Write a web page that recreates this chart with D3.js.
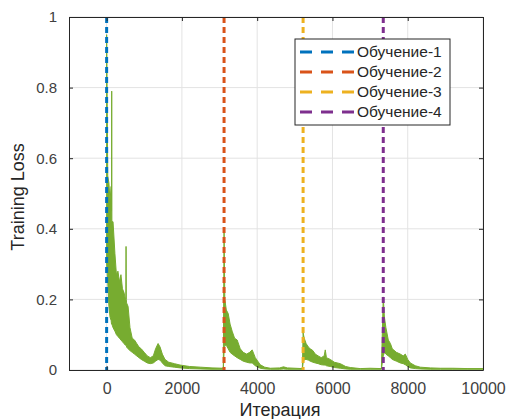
<!DOCTYPE html>
<html>
<head>
<meta charset="utf-8">
<script src="https://cdn.jsdelivr.net/npm/d3@7"></script>
<style>
  body { margin: 0; background: #fff; }
  text { font-family: "Liberation Sans", Arial, sans-serif; }
</style>
</head>
<body>
<svg id="chart" width="509" height="419"></svg>
<script>
// iterations and loss band (upper / lower envelope)
const iters = [0, 30, 60, 90, 120, 130, 135, 140, 170, 220, 260, 300, 340, 380, 420, 460, 500, 510, 516, 522, 530, 570, 620, 680, 740, 800, 860, 920, 1000, 1080, 1160, 1240, 1300, 1367, 1420, 1480, 1550, 1650, 1800, 1950, 2200, 2500, 2800, 3100,
  3120, 3140, 3180, 3230, 3280, 3335, 3400, 3468, 3550, 3630, 3720, 3800, 3867, 3950, 4080, 4200, 4350, 4600, 4700, 4800, 5200,
  5220, 5250, 5300, 5360, 5410, 5480, 5543, 5620, 5700, 5780, 5809, 5840, 5941, 6050, 6207, 6350, 6473, 6739, 7000, 7300,
  7350, 7380, 7420, 7484, 7540, 7590, 7700, 7803, 7880, 7936, 8000, 8069, 8200, 8335, 8600, 8867, 9200, 9600, 10000];
const lossHi = [0.95, 0.55, 0.53, 0.48, 0.52, 0.45, 0.79, 0.42, 0.42, 0.33, 0.27, 0.28, 0.25, 0.27, 0.23, 0.22, 0.2, 0.2, 0.35, 0.2, 0.19, 0.18, 0.12, 0.09, 0.085, 0.075, 0.065, 0.06, 0.05, 0.04, 0.035, 0.04, 0.06, 0.075, 0.065, 0.045, 0.03, 0.022, 0.018, 0.014, 0.01, 0.008, 0.006, 0.005,
  0.4, 0.2, 0.17, 0.16, 0.13, 0.11, 0.09, 0.085, 0.06, 0.05, 0.045, 0.05, 0.057, 0.035, 0.015, 0.008, 0.005, 0.006, 0.009, 0.006, 0.004,
  0.105, 0.09, 0.075, 0.065, 0.06, 0.055, 0.045, 0.04, 0.035, 0.04, 0.057, 0.035, 0.03, 0.022, 0.018, 0.01, 0.007, 0.004, 0.005, 0.004,
  0.207, 0.15, 0.12, 0.085, 0.075, 0.06, 0.05, 0.045, 0.04, 0.045, 0.03, 0.02, 0.012, 0.008, 0.006, 0.005, 0.005, 0.004, 0.004];
const lossLo = [0.3, 0.25, 0.18, 0.15, 0.14, 0.13, 0.13, 0.13, 0.12, 0.11, 0.1, 0.095, 0.09, 0.085, 0.08, 0.075, 0.07, 0.07, 0.07, 0.07, 0.065, 0.06, 0.055, 0.05, 0.045, 0.04, 0.035, 0.03, 0.025, 0.02, 0.018, 0.02, 0.025, 0.03, 0.028, 0.02, 0.012, 0.01, 0.008, 0.006, 0.004, 0.003, 0.002, 0.002,
  0.05, 0.07, 0.07, 0.06, 0.05, 0.045, 0.04, 0.035, 0.03, 0.025, 0.022, 0.02, 0.02, 0.012, 0.005, 0.003, 0.002, 0.002, 0.003, 0.002, 0.002,
  0.02, 0.03, 0.03, 0.028, 0.025, 0.022, 0.02, 0.018, 0.015, 0.014, 0.014, 0.012, 0.01, 0.007, 0.005, 0.003, 0.002, 0.002, 0.002, 0.002,
  0.04, 0.05, 0.045, 0.04, 0.035, 0.03, 0.025, 0.02, 0.018, 0.015, 0.01, 0.006, 0.004, 0.003, 0.002, 0.002, 0.002, 0.002, 0.002];

// restarts of training
const runNames = ["Обучение-1", "Обучение-2", "Обучение-3", "Обучение-4"];
const runStarts = [0, 3120, 5220, 7350];
const runColors = ["#0072BD", "#D95319", "#EDB120", "#7E2F8E"];

const xTicks = [0, 2000, 4000, 6000, 8000, 10000];
const yTicks = [0, 0.2, 0.4, 0.6, 0.8, 1];

const svg = d3.select("#chart");
const margin = { top: 17, right: 26, bottom: 49, left: 69 };
const width = 509 - margin.left - margin.right;
const height = 419 - margin.top - margin.bottom;

const x = d3.scaleLinear().domain([-1000, 10000]).range([0, width]);
const y = d3.scaleLinear().domain([0, 1]).range([height, 0]);

const g = svg.append("g")
  .attr("transform", `translate(${margin.left},${margin.top})`);

// grid
g.append("g").selectAll("line")
  .data(xTicks)
  .enter().append("line")
  .attr("x1", d => x(d)).attr("x2", d => x(d))
  .attr("y1", 0).attr("y2", height)
  .attr("stroke", "#e3e3e3");
g.append("g").selectAll("line")
  .data(yTicks)
  .enter().append("line")
  .attr("x1", 0).attr("x2", width)
  .attr("y1", d => y(d)).attr("y2", d => y(d))
  .attr("stroke", "#e3e3e3");

// loss band
const pts = iters.map((it, i) => ({ it, hi: lossHi[i], lo: lossLo[i] }));
g.append("path")
  .datum(pts)
  .attr("fill", "#77AC30")
  .attr("stroke", "#77AC30")
  .attr("stroke-width", 1)
  .attr("d", d3.area()
    .x(d => x(d.it))
    .y0(d => y(d.lo))
    .y1(d => y(d.hi)));

// restart lines
g.append("g").selectAll("line")
  .data(runStarts)
  .enter().append("line")
  .attr("x1", d => x(d)).attr("x2", d => x(d))
  .attr("y1", y(1)).attr("y2", y(0))
  .attr("stroke", (d, i) => runColors[i])
  .attr("stroke-width", 3)
  .attr("stroke-dasharray", "6,4");

// axes (box with inward ticks)
const tickColor = "#262626";
const xAxis = g.append("g")
  .attr("transform", `translate(0,${height})`)
  .call(d3.axisBottom(x).tickValues(xTicks).tickSizeInner(-4).tickSizeOuter(0).tickPadding(13).tickFormat(d3.format("d")));
const yAxis = g.append("g")
  .call(d3.axisLeft(y).tickValues(yTicks).tickSizeInner(-4).tickSizeOuter(0).tickPadding(12).tickFormat(d => d === 0 || d === 1 ? d : d.toFixed(1)));
const xTop = g.append("g")
  .call(d3.axisTop(x).tickValues(xTicks).tickSizeInner(-4).tickSizeOuter(0).tickFormat(""));
const yRight = g.append("g")
  .attr("transform", `translate(${width},0)`)
  .call(d3.axisRight(y).tickValues(yTicks).tickSizeInner(-4).tickSizeOuter(0).tickFormat(""));

[xAxis, yAxis, xTop, yRight].forEach(a => {
  a.select(".domain").attr("stroke", tickColor).attr("stroke-width", 1);
  a.selectAll(".tick line").attr("stroke", tickColor);
  a.selectAll(".tick text").attr("fill", "#404040")
    .style("font-family", "'Liberation Sans', Arial, sans-serif");
});
xAxis.selectAll(".tick text").style("font-size", "16px");
yAxis.selectAll(".tick text").style("font-size", "15px");

// axis titles
svg.append("text")
  .attr("x", 280)
  .attr("y", 416)
  .attr("text-anchor", "middle")
  .attr("fill", "#262626")
  .style("font-size", "18px")
  .text("Итерация");

svg.append("text")
  .attr("transform", `translate(24,197) rotate(-90)`)
  .attr("text-anchor", "middle")
  .attr("fill", "#262626")
  .style("font-size", "18px")
  .text("Training Loss");

// legend
const legend = g.append("g")
  .attr("transform", `translate(${295 - margin.left},${39 - margin.top})`);
legend.append("rect")
  .attr("width", 155).attr("height", 86)
  .attr("fill", "#fff")
  .attr("stroke", tickColor)
  .attr("stroke-width", 1);
const rows = legend.selectAll(".row")
  .data(runNames)
  .enter().append("g")
  .attr("transform", (d, i) => `translate(0,${13 + i * 20})`);
rows.append("line")
  .attr("x1", 5).attr("x2", 60)
  .attr("stroke", (d, i) => runColors[i])
  .attr("stroke-width", 3)
  .attr("stroke-dasharray", "12,9");
rows.append("text")
  .attr("x", 62)
  .attr("dy", "0.35em")
  .attr("fill", "#262626")
  .style("font-size", "15.5px")
  .text(d => d);
</script>
</body>
</html>
